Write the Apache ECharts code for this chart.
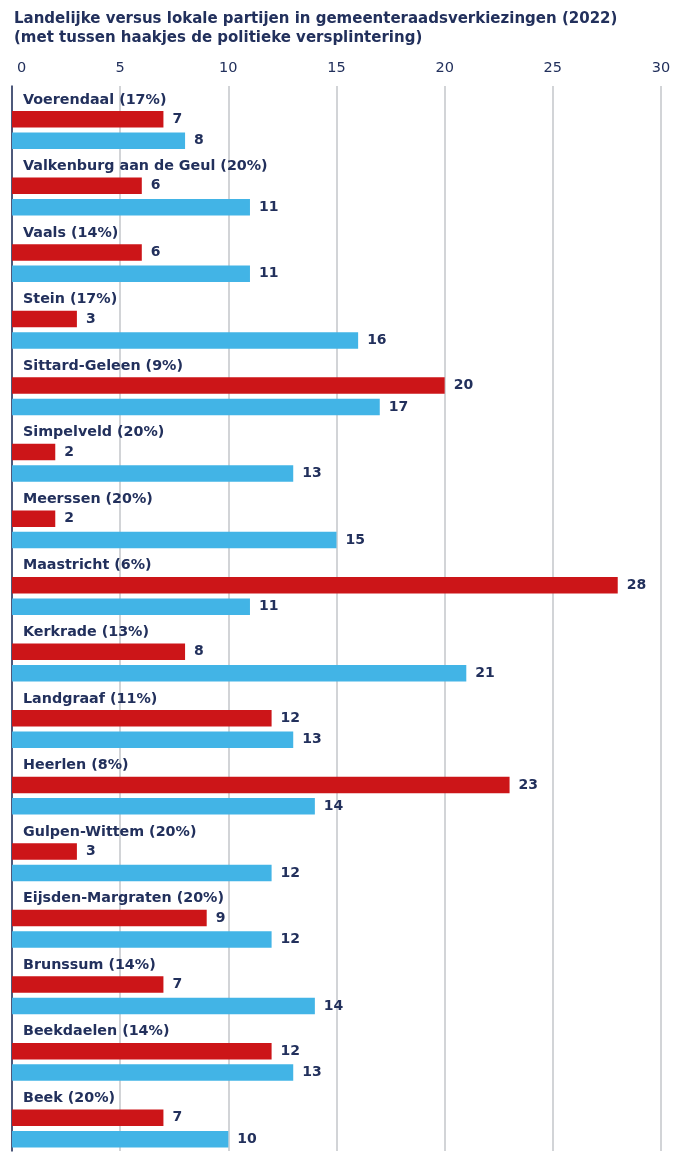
<!DOCTYPE html>
<html>
<head>
<meta charset="utf-8">
<script src="https://cdn.jsdelivr.net/npm/echarts@6/dist/echarts.min.js"></script>
<style>html,body{margin:0;padding:0;background:#fff;}#c{width:684px;height:1153px;}</style>
</head>
<body>
<div id="c"></div>
<script>
const titleText = 'Landelijke versus lokale partijen in gemeenteraadsverkiezingen (2022)\n(met tussen haakjes de politieke versplintering)';
const categories = ['Voerendaal (17%)','Valkenburg aan de Geul (20%)','Vaals (14%)','Stein (17%)','Sittard-Geleen (9%)','Simpelveld (20%)','Meerssen (20%)','Maastricht (6%)','Kerkrade (13%)','Landgraaf (11%)','Heerlen (8%)','Gulpen-Wittem (20%)','Eijsden-Margraten (20%)','Brunssum (14%)','Beekdaelen (14%)','Beek (20%)'];
const landelijk = [7,6,6,3,20,2,2,28,8,12,23,3,9,7,12,7];
const lokaal = [8,11,11,16,17,13,15,11,21,13,14,12,12,14,13,10];
const xTicks = [0,5,10,15,20,25,30];

const navy = '#22305c';
const font = 'DejaVu Sans';
const chart = echarts.init(document.getElementById('c'));
chart.setOption({
  animation: false,
  textStyle: {fontFamily: font},
  title: {
    text: titleText, left: 9, top: 5,
    textStyle: {fontFamily: font, fontSize: 15, fontWeight: 700, color: navy, lineHeight: 19}
  },
  grid: {left: 12, right: 23, top: 86, bottom: 2, containLabel: false},
  xAxis: {
    type: 'value', position: 'top', min: xTicks[0], max: xTicks[xTicks.length-1], interval: 5,
    axisLine: {show: false}, axisTick: {show: false},
    axisLabel: {color: navy, fontSize: 14.5, margin: 10, fontFamily: font,
      formatter: v => v === xTicks[0] ? '{z|' + v + '}' : String(v),
      rich: {z: {color: navy, fontSize: 14.5, fontFamily: font, padding: [0, 0, 0, 19]}}},
    splitLine: {show: true, lineStyle: {color: '#c3c6ca', width: 1.5}}
  },
  yAxis: {
    type: 'category', data: categories, inverse: true,
    axisLine: {show: true, lineStyle: {color: navy, width: 1.5}},
    axisTick: {show: false}, axisLabel: {show: false}
  },
  series: [
    {
      name: 'label', type: 'bar', barWidth: 16.5, barGap: '30%',
      data: categories.map(() => 0),
      itemStyle: {color: 'rgba(0,0,0,0)'},
      label: {show: true, position: 'right', distance: 11, offset: [0, 2], color: navy, fontSize: 14.3, fontWeight: 700, fontFamily: font,
        formatter: p => p.name}
    },
    {
      name: 'Landelijk', type: 'bar', barWidth: 16.5, barGap: '30%', data: landelijk,
      itemStyle: {color: '#cc1518'},
      label: {show: true, position: 'right', distance: 9, color: navy, fontSize: 14, fontWeight: 700, fontFamily: font}
    },
    {
      name: 'Lokaal', type: 'bar', barWidth: 16.5, barGap: '30%', data: lokaal,
      itemStyle: {color: '#42b4e6'},
      label: {show: true, position: 'right', distance: 9, color: navy, fontSize: 14, fontWeight: 700, fontFamily: font}
    }
  ]
});
</script>
</body>
</html>
